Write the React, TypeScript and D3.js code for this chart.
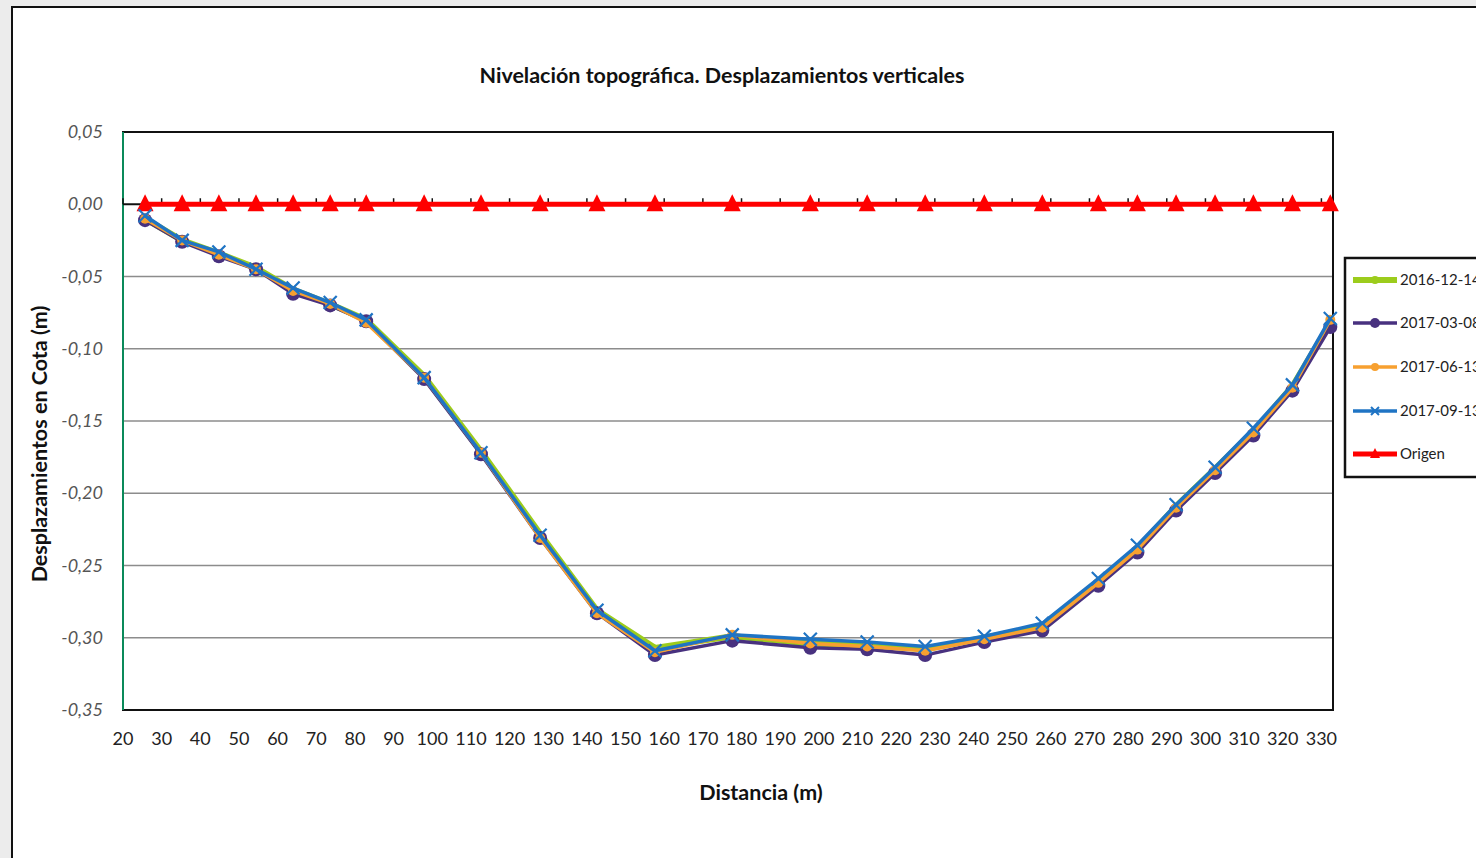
import React from "react";
import * as d3 from "d3";

const distances = [25.7, 35.3, 44.8, 54.4, 64.0, 73.6, 82.9, 97.9, 112.6, 127.9, 142.6, 157.6, 177.6, 197.8, 212.5, 227.5, 242.8, 257.8, 272.3, 282.4, 292.4, 302.5, 312.4, 322.5, 332.3];

const s20161214 = [-0.010, -0.025, -0.034, -0.044, -0.059, -0.069, -0.080, -0.119, -0.171, -0.228, -0.281, -0.307, -0.299, -0.304, -0.305, -0.308, -0.300, -0.292, -0.261, -0.238, -0.209, -0.183, -0.157, -0.126, -0.082];
const s20170308 = [-0.011, -0.026, -0.036, -0.045, -0.062, -0.070, -0.081, -0.121, -0.173, -0.231, -0.283, -0.312, -0.302, -0.307, -0.308, -0.312, -0.303, -0.295, -0.264, -0.241, -0.212, -0.186, -0.160, -0.129, -0.085];
const s20170613 = [-0.010, -0.025, -0.035, -0.045, -0.060, -0.069, -0.082, -0.120, -0.172, -0.231, -0.283, -0.310, -0.298, -0.304, -0.306, -0.309, -0.301, -0.293, -0.262, -0.239, -0.210, -0.184, -0.158, -0.127, -0.080];
const s20170913 = [-0.008, -0.025, -0.033, -0.045, -0.058, -0.068, -0.080, -0.120, -0.172, -0.229, -0.281, -0.309, -0.298, -0.301, -0.303, -0.306, -0.299, -0.290, -0.259, -0.236, -0.208, -0.182, -0.155, -0.125, -0.079];
const origen = [0, 0, 0, 0, 0, 0, 0, 0, 0, 0, 0, 0, 0, 0, 0, 0, 0, 0, 0, 0, 0, 0, 0, 0, 0];

const seriesNames = ["2016-12-14", "2017-03-08", "2017-06-13", "2017-09-13", "Origen"];
const xTicks = d3.range(20, 331, 10);
const yTicks = [0.05, 0, -0.05, -0.1, -0.15, -0.2, -0.25, -0.3, -0.35];

const W = 1476, H = 858;
const left = 123, right = 1333, top = 132, bottom = 710;

export default function App() {
  const x = d3.scaleLinear().domain([20, 333]).range([left, right]);
  const y = d3.scaleLinear().domain([-0.35, 0.05]).range([bottom, top]);
  const fmt = (v: number) => d3.format(".2f")(v).replace(".", ",").replace("−", "-");

  const series = [
    { name: seriesNames[0], vals: s20161214, color: "#9ccc1c", width: 6, marker: "none" },
    { name: seriesNames[1], vals: s20170308, color: "#48317f", width: 3.5, marker: "circle" },
    { name: seriesNames[2], vals: s20170613, color: "#f7a030", width: 3.5, marker: "dot" },
    { name: seriesNames[3], vals: s20170913, color: "#1f74c4", width: 3.5, marker: "x" },
  ];

  const line = (vals: number[]) =>
    d3.line<number>().x((_, i) => x(distances[i])).y((v) => y(v))(vals) || "";

  const marker = (type: string, cx: number, cy: number, color: string, key: string) => {
    if (type === "circle") return <circle key={key} cx={cx} cy={cy} r={7} fill={color} />;
    if (type === "dot") return <circle key={key} cx={cx} cy={cy} r={5} fill={color} />;
    if (type === "x")
      return (
        <path key={key} d={`M${cx - 6.5},${cy - 6.5}L${cx + 6.5},${cy + 6.5}M${cx - 6.5},${cy + 6.5}L${cx + 6.5},${cy - 6.5}`} stroke={color} strokeWidth={2.2} />
      );
    if (type === "tri")
      return <path key={key} d={`M${cx},${cy - 10}L${cx + 8.5},${cy + 7}L${cx - 8.5},${cy + 7}Z`} fill={color} />;
    return null;
  };

  const font = "Lato, 'Open Sans', sans-serif";
  const legendY = [280, 323, 367, 411, 454];

  return (
    <svg width={W} height={H} style={{ position: "absolute", left: 0, top: 0, background: "#ececec" }}>
      <rect x={12} y={7} width={W + 10} height={H + 10} fill="#ffffff" stroke="#111" strokeWidth={2} />
      <text x={722} y={83} textAnchor="middle" fontFamily={font} fontWeight="bold" fontSize={21.5} fill="#111">
        Nivelación topográfica. Desplazamientos verticales
      </text>

      {/* gridlines */}
      {yTicks.filter((t) => t < -0.001 && t > -0.349).map((t) => (
        <line key={"g" + t} x1={left} x2={right} y1={y(t)} y2={y(t)} stroke="#8c8c8c" strokeWidth={1.5} />
      ))}
      {/* plot border */}
      <rect x={left} y={top} width={right - left} height={bottom - top} fill="none" stroke="#111" strokeWidth={2} />
      <line x1={left} x2={left} y1={top} y2={bottom} stroke="#0a8a5a" strokeWidth={2} />
      {/* zero axis */}
      <line x1={left} x2={right} y1={y(0)} y2={y(0)} stroke="#111" strokeWidth={2} />
      {xTicks.map((t) => (
        <line key={"t" + t} x1={x(t)} x2={x(t)} y1={y(0) - 6} y2={y(0)} stroke="#111" strokeWidth={1.5} />
      ))}

      {/* y labels */}
      {yTicks.map((t) => (
        <text key={"yl" + t} x={103} y={y(t) + 6} textAnchor="end" fontFamily={font} fontStyle="italic" fontSize={18} fill="#555">
          {fmt(t)}
        </text>
      ))}
      {/* x labels */}
      {xTicks.map((t) => (
        <text key={"xl" + t} x={x(t)} y={745} textAnchor="middle" fontFamily={font} fontSize={18} fill="#222">
          {t}
        </text>
      ))}

      <text x={761} y={800} textAnchor="middle" fontFamily={font} fontWeight="bold" fontSize={21.5} fill="#111">
        Distancia (m)
      </text>
      <text transform={`translate(47,444) rotate(-90)`} textAnchor="middle" fontFamily={font} fontWeight="bold" fontSize={21.5} fill="#111">
        Desplazamientos en Cota (m)
      </text>

      {/* origen */}
      <path d={line(origen)} fill="none" stroke="#ff0000" strokeWidth={5} />
      {origen.map((v, i) => marker("tri", x(distances[i]), y(v), "#ff0000", "o" + i))}

      {series.map((s) => (
        <g key={s.name}>
          <path d={line(s.vals)} fill="none" stroke={s.color} strokeWidth={s.width} strokeLinejoin="round" />
          {s.vals.map((v, i) => marker(s.marker, x(distances[i]), y(v), s.color, s.name + i))}
        </g>
      ))}

      {/* legend */}
      <rect x={1345} y={258} width={160} height={219} fill="#fff" stroke="#111" strokeWidth={2.5} />
      {[...series, { name: seriesNames[4], vals: origen, color: "#ff0000", width: 5, marker: "tri" }].map((s, i) => (
        <g key={"lg" + i}>
          <line x1={1353} x2={1397} y1={legendY[i]} y2={legendY[i]} stroke={s.color} strokeWidth={s.width} />
          {s.marker === "tri"
            ? <path d={`M1375,${legendY[i] - 6}L1380,${legendY[i] + 4}L1370,${legendY[i] + 4}Z`} fill="#ff0000" />
            : s.marker === "x"
              ? <path d={`M1371,${legendY[i] - 4}L1379,${legendY[i] + 4}M1371,${legendY[i] + 4}L1379,${legendY[i] - 4}`} stroke={s.color} strokeWidth={2} />
              : <circle cx={1375} cy={legendY[i]} r={s.marker === "circle" ? 5 : 4} fill={s.color} />}
          <text x={1400} y={legendY[i] + 5} fontFamily={font} fontSize={15} fill="#222">
            {s.name}
          </text>
        </g>
      ))}
    </svg>
  );
}
